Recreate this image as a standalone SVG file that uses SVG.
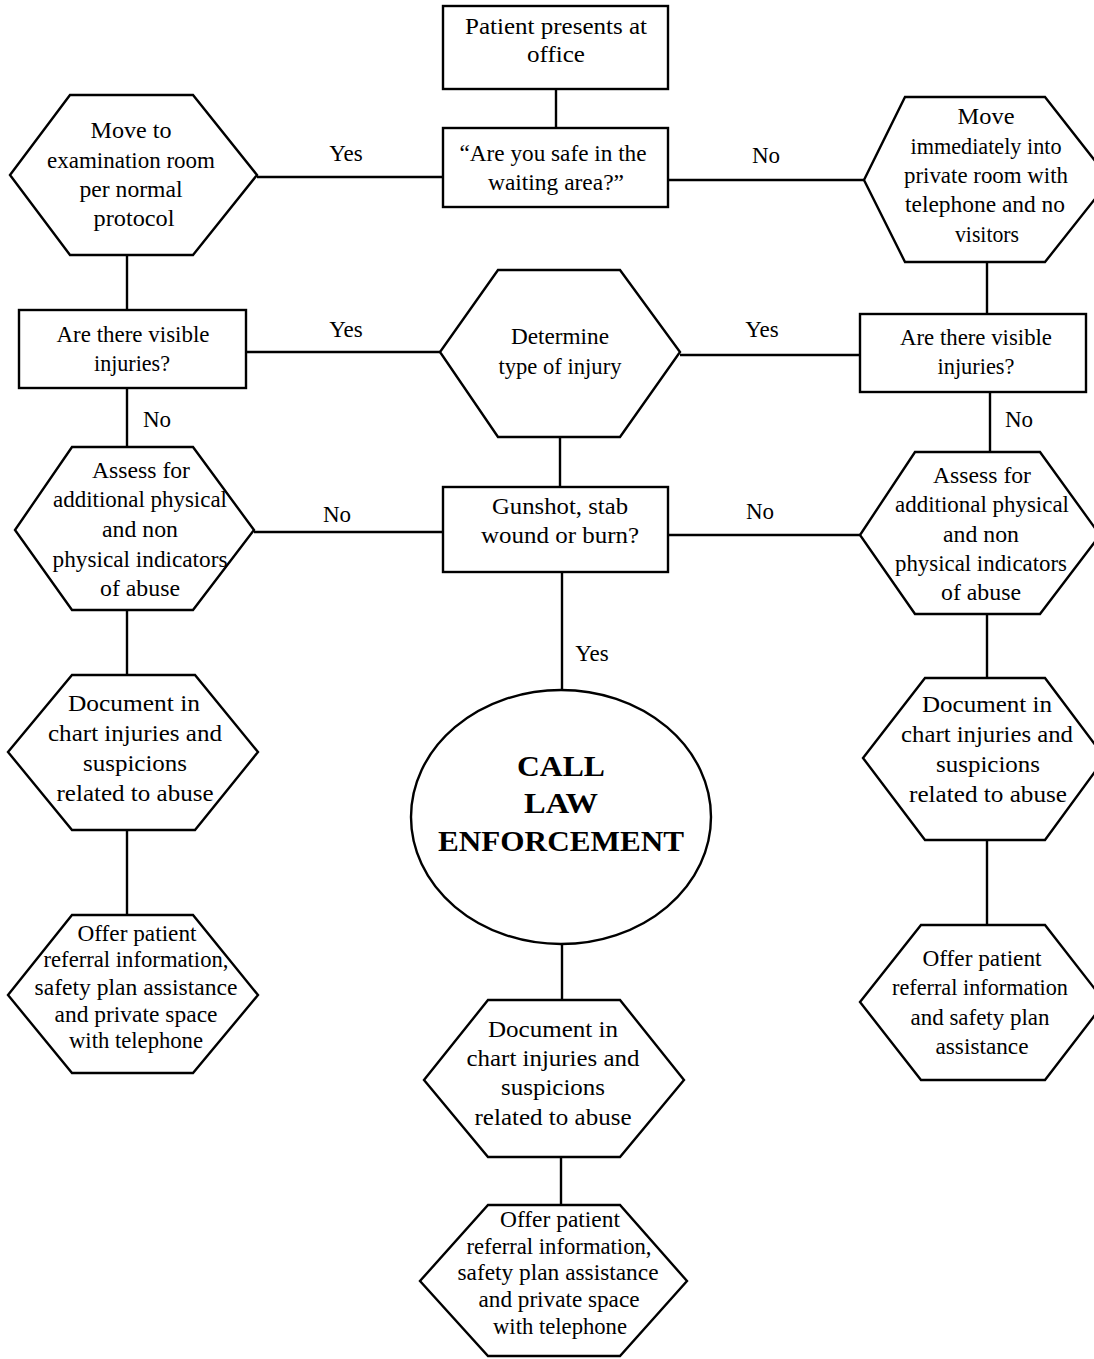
<svg xmlns="http://www.w3.org/2000/svg" width="1094" height="1359" viewBox="0 0 1094 1359">
<style>
.s{fill:#fff;stroke:#000;stroke-width:2.4}
.c line{stroke:#000;stroke-width:2.4}
text{font-family:"Liberation Serif","Times New Roman",serif;font-size:23px;fill:#000;text-anchor:middle}
.b{font-weight:bold;font-size:30px}
</style>
<rect width="1094" height="1359" fill="#fff"/>
<g class="c" id="connectors">
<line x1="556" y1="89" x2="556" y2="128"/>
<line x1="257" y1="177" x2="443" y2="177"/>
<line x1="668" y1="180" x2="864" y2="180"/>
<line x1="127" y1="255" x2="127" y2="310"/>
<line x1="987" y1="262" x2="987" y2="314"/>
<line x1="246" y1="352" x2="440" y2="352"/>
<line x1="680" y1="355" x2="860" y2="355"/>
<line x1="127" y1="388" x2="127" y2="447"/>
<line x1="990" y1="392" x2="990" y2="452"/>
<line x1="560" y1="437" x2="560" y2="487"/>
<line x1="254" y1="532" x2="443" y2="532"/>
<line x1="668" y1="535" x2="860" y2="535"/>
<line x1="127" y1="610" x2="127" y2="675"/>
<line x1="987" y1="614" x2="987" y2="678"/>
<line x1="562" y1="572" x2="562" y2="690"/>
<line x1="127" y1="830" x2="127" y2="915"/>
<line x1="987" y1="840" x2="987" y2="925"/>
<line x1="562" y1="945" x2="562" y2="1000"/>
<line x1="561" y1="1157" x2="561" y2="1205"/>
<text x="346" y="161">Yes</text>
<text x="766" y="163">No</text>
<text x="346" y="337">Yes</text>
<text x="762" y="337">Yes</text>
<text x="157" y="427">No</text>
<text x="1019" y="427">No</text>
<text x="337" y="522">No</text>
<text x="760" y="519">No</text>
<text x="592" y="661">Yes</text>
</g>
<g id="n1"><rect class="s" x="443" y="6" width="225" height="83"/>
<text x="556" y="34" textLength="182" lengthAdjust="spacingAndGlyphs">Patient presents at</text>
<text x="556" y="62" textLength="58" lengthAdjust="spacingAndGlyphs">office</text></g>
<g id="n2"><rect class="s" x="443" y="128" width="225" height="79"/>
<text x="553" y="161" textLength="187" lengthAdjust="spacingAndGlyphs">“Are you safe in the</text>
<text x="556" y="190" textLength="136" lengthAdjust="spacingAndGlyphs">waiting area?”</text></g>
<g id="n3"><polygon class="s" points="70,95 193,95 257,175 193,255 70,255 10,175"/>
<text x="131" y="138" textLength="81" lengthAdjust="spacingAndGlyphs">Move to</text>
<text x="131" y="168" textLength="168" lengthAdjust="spacingAndGlyphs">examination room</text>
<text x="131" y="197" textLength="103" lengthAdjust="spacingAndGlyphs">per normal</text>
<text x="134" y="226" textLength="81" lengthAdjust="spacingAndGlyphs">protocol</text></g>
<g id="n4"><polygon class="s" points="905,97 1045,97 1110,180 1045,262 905,262 864,180"/>
<text x="986" y="124" textLength="57" lengthAdjust="spacingAndGlyphs">Move</text>
<text x="986" y="154" textLength="151" lengthAdjust="spacingAndGlyphs">immediately into</text>
<text x="986" y="183" textLength="164" lengthAdjust="spacingAndGlyphs">private room with</text>
<text x="985" y="212" textLength="160" lengthAdjust="spacingAndGlyphs">telephone and no</text>
<text x="987" y="242" textLength="64" lengthAdjust="spacingAndGlyphs">visitors</text></g>
<g id="n5"><rect class="s" x="19" y="310" width="227" height="78"/>
<text x="133" y="342" textLength="153" lengthAdjust="spacingAndGlyphs">Are there visible</text>
<text x="132" y="371" textLength="76" lengthAdjust="spacingAndGlyphs">injuries?</text></g>
<g id="n6"><polygon class="s" points="498,270 620,270 680,352 620,437 498,437 440,352"/>
<text x="560" y="344" textLength="98" lengthAdjust="spacingAndGlyphs">Determine</text>
<text x="560" y="374" textLength="123" lengthAdjust="spacingAndGlyphs">type of injury</text></g>
<g id="n7"><rect class="s" x="860" y="314" width="226" height="78"/>
<text x="976" y="345" textLength="152" lengthAdjust="spacingAndGlyphs">Are there visible</text>
<text x="976" y="374" textLength="77" lengthAdjust="spacingAndGlyphs">injuries?</text></g>
<g id="n8"><polygon class="s" points="72,447 193,447 254,530 193,610 72,610 15,530"/>
<text x="141" y="478" textLength="98" lengthAdjust="spacingAndGlyphs">Assess for</text>
<text x="140" y="507" textLength="174" lengthAdjust="spacingAndGlyphs">additional physical</text>
<text x="140" y="537" textLength="76" lengthAdjust="spacingAndGlyphs">and non</text>
<text x="140" y="567" textLength="175" lengthAdjust="spacingAndGlyphs">physical indicators</text>
<text x="140" y="596" textLength="80" lengthAdjust="spacingAndGlyphs">of abuse</text></g>
<g id="n9"><rect class="s" x="443" y="487" width="225" height="85"/>
<text x="560" y="514" textLength="136" lengthAdjust="spacingAndGlyphs">Gunshot, stab</text>
<text x="560" y="543" textLength="158" lengthAdjust="spacingAndGlyphs">wound or burn?</text></g>
<g id="n10"><polygon class="s" points="915,452 1040,452 1100,535 1040,614 915,614 860,535"/>
<text x="982" y="483" textLength="98" lengthAdjust="spacingAndGlyphs">Assess for</text>
<text x="982" y="512" textLength="174" lengthAdjust="spacingAndGlyphs">additional physical</text>
<text x="981" y="542" textLength="76" lengthAdjust="spacingAndGlyphs">and non</text>
<text x="981" y="571" textLength="172" lengthAdjust="spacingAndGlyphs">physical indicators</text>
<text x="981" y="600" textLength="80" lengthAdjust="spacingAndGlyphs">of abuse</text></g>
<g id="n11"><polygon class="s" points="72,675 195,675 258,752 195,830 72,830 8,752"/>
<text x="134" y="711" textLength="132" lengthAdjust="spacingAndGlyphs">Document in</text>
<text x="135" y="741" textLength="174" lengthAdjust="spacingAndGlyphs">chart injuries and</text>
<text x="135" y="771" textLength="104" lengthAdjust="spacingAndGlyphs">suspicions</text>
<text x="135" y="801" textLength="157" lengthAdjust="spacingAndGlyphs">related to abuse</text></g>
<g id="n12"><ellipse class="s" cx="561" cy="817" rx="150" ry="127"/>
<text class="b" x="561" y="776" textLength="88" lengthAdjust="spacingAndGlyphs">CALL</text>
<text class="b" x="561" y="813" textLength="74" lengthAdjust="spacingAndGlyphs">LAW</text>
<text class="b" x="561" y="851" textLength="246" lengthAdjust="spacingAndGlyphs">ENFORCEMENT</text></g>
<g id="n13"><polygon class="s" points="925,678 1045,678 1105,758 1045,840 925,840 863,758"/>
<text x="987" y="712" textLength="130" lengthAdjust="spacingAndGlyphs">Document in</text>
<text x="987" y="742" textLength="172" lengthAdjust="spacingAndGlyphs">chart injuries and</text>
<text x="988" y="772" textLength="104" lengthAdjust="spacingAndGlyphs">suspicions</text>
<text x="988" y="802" textLength="158" lengthAdjust="spacingAndGlyphs">related to abuse</text></g>
<g id="n14"><polygon class="s" points="72,915 193,915 258,995 193,1073 72,1073 8,995"/>
<text x="137" y="941" textLength="119" lengthAdjust="spacingAndGlyphs">Offer patient</text>
<text x="136" y="967" textLength="185" lengthAdjust="spacingAndGlyphs">referral information,</text>
<text x="136" y="995" textLength="203" lengthAdjust="spacingAndGlyphs">safety plan assistance</text>
<text x="136" y="1022" textLength="163" lengthAdjust="spacingAndGlyphs">and private space</text>
<text x="136" y="1048" textLength="134" lengthAdjust="spacingAndGlyphs">with telephone</text></g>
<g id="n15"><polygon class="s" points="921,925 1045,925 1105,1002 1045,1080 921,1080 860,1002"/>
<text x="982" y="966" textLength="119" lengthAdjust="spacingAndGlyphs">Offer patient</text>
<text x="980" y="995" textLength="176" lengthAdjust="spacingAndGlyphs">referral information</text>
<text x="980" y="1025" textLength="139" lengthAdjust="spacingAndGlyphs">and safety plan</text>
<text x="982" y="1054" textLength="93" lengthAdjust="spacingAndGlyphs">assistance</text></g>
<g id="n16"><polygon class="s" points="488,1000 620,1000 684,1080 620,1157 488,1157 424,1080"/>
<text x="553" y="1037" textLength="130" lengthAdjust="spacingAndGlyphs">Document in</text>
<text x="553" y="1066" textLength="173" lengthAdjust="spacingAndGlyphs">chart injuries and</text>
<text x="553" y="1095" textLength="104" lengthAdjust="spacingAndGlyphs">suspicions</text>
<text x="553" y="1125" textLength="157" lengthAdjust="spacingAndGlyphs">related to abuse</text></g>
<g id="n17"><polygon class="s" points="488,1205 620,1205 687,1281 620,1356 488,1356 420,1281"/>
<text x="560" y="1227" textLength="120" lengthAdjust="spacingAndGlyphs">Offer patient</text>
<text x="559" y="1254" textLength="185" lengthAdjust="spacingAndGlyphs">referral information,</text>
<text x="558" y="1280" textLength="201" lengthAdjust="spacingAndGlyphs">safety plan assistance</text>
<text x="559" y="1307" textLength="161" lengthAdjust="spacingAndGlyphs">and private space</text>
<text x="560" y="1334" textLength="134" lengthAdjust="spacingAndGlyphs">with telephone</text></g>
</svg>
